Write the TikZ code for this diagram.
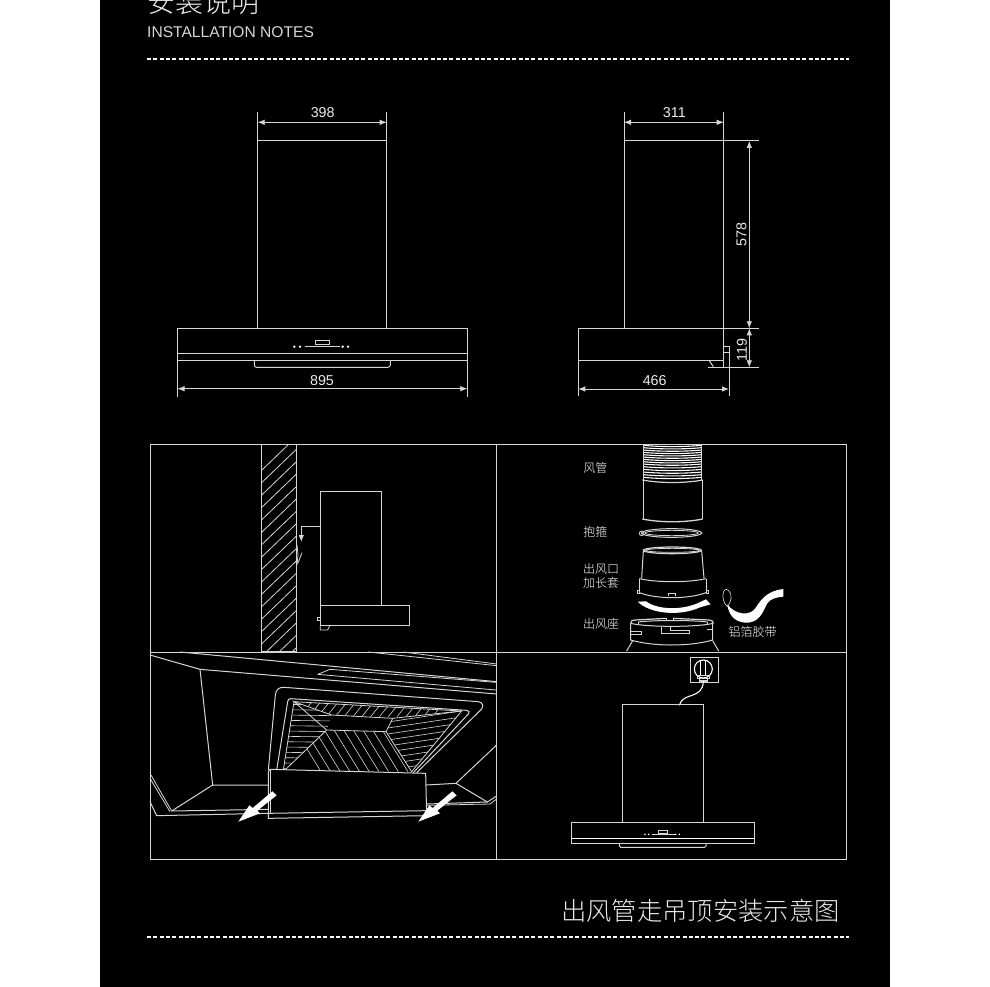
\documentclass[tikz,border=0pt]{standalone}
\usepackage{fontspec}
\setmainfont{Liberation Sans}
\newfontfamily\cjk{Noto Sans CJK SC Light}
\usetikzlibrary{arrows.meta}
\definecolor{linegray}{gray}{0.84}
\definecolor{txtgray}{gray}{0.92}
\tikzset{
  lin/.style={draw=linegray,line width=1pt},
  thinlin/.style={draw=linegray,line width=0.8pt},
  hatchlin/.style={draw=linegray,line width=0.6pt},
  dim/.style={draw=linegray,line width=0.8pt,{Latex[length=7pt,width=5.5pt]}-{Latex[length=7pt,width=5.5pt]}},
  dashline/.style={draw=white,line width=1.3pt,dash pattern=on 4pt off 2.3pt},
  num/.style={text=txtgray,inner sep=0pt,font=\fontsize{14.3}{14}\selectfont},
  lab/.style={text=white,inner sep=0pt,font=\cjk\fontsize{12}{14}\selectfont,align=left},
  zoomed/.style={x=0.33333pt,y=-0.33333pt}
}
\begin{document}
\begin{tikzpicture}[x=1pt,y=-1pt]
\useasboundingbox (0,0) rectangle (990,987);
\fill[white] (0,0) rectangle (990,987);
\fill[black] (100,0) rectangle (890,987);

% header
\node[anchor=center,text=txtgray,inner sep=0pt,font=\cjk\fontsize{28}{28}\selectfont] (title) at (203.5,1.5) {安装说明};
\node[anchor=west,text=linegray,inner sep=0pt,font=\fontsize{15.6}{16}\selectfont] (sub) at (147,32.5) {INSTALLATION NOTES};
\coordinate (d1a) at (147,59); \coordinate (d1b) at (849,59);
\draw[dashline] (d1a) -- (d1b);

% front view
\draw[lin] (257.7,112) -- (257.7,328.3);
\draw[lin] (386.7,112) -- (386.7,328.3);
\draw[lin] (257.7,141) -- (386.7,141);
\draw[dim] (257.7,122.3) -- (386.7,122.3);
\node[num] (n398) at (322.7,112.3) {398};
\draw[lin] (177.5,396.7) -- (177.5,328.3) -- (467.3,328.3) -- (467.3,396.7);
\draw[lin,line width=1.2pt] (177.5,353.3) -- (467.3,353.3);
\draw[lin] (177.5,360) -- (467.3,360);
\draw[lin] (254.3,360) -- (254.3,365) arc (180:90:2.3) -- (388,367.3) arc (90:0:2.3) -- (390.3,360);
\draw[lin] (315.3,344.7) rectangle (329.3,340.7);
\draw[lin] (304.7,346.7) -- (340,346.7);
\foreach \x in {294.3,300,342.7,348} \fill[white] (\x,346.7) circle (1.3);
\draw[dim] (177.5,388.7) -- (467.3,388.7);
\node[num] (n895) at (322,380.3) {895};

% side view
\draw[lin] (624,112) -- (624,328.3);
\draw[lin] (723.7,112) -- (723.7,366.7);
\draw[lin] (624,141) -- (758.7,141);
\draw[dim] (624,122.3) -- (723.7,122.3);
\node[num] (n311) at (674.3,112.3) {311};
\draw[lin] (578.3,396) -- (578.3,328.3) -- (758.7,328.3);
\draw[lin] (578.3,360.3) -- (723.7,360.3);
\draw[lin] (723.7,346.3) -- (729,346.3) -- (729,396);
\draw[lin] (723.7,352) -- (729,352);
\draw[lin] (708.3,367.3) -- (758.7,367.3);
\draw[lin] (709,360.3) -- (713.3,366.7);
\draw[dim] (749.3,141) -- (749.3,328.3);
\draw[dim] (749.3,328.3) -- (749.3,367.3);
\node[num,rotate=90] (n578) at (741.5,234.3) {578};
\node[num,rotate=90] (n119) at (742,350) {119};
\draw[dim] (578.3,389) -- (729,389);
\node[num] (n466) at (654.7,380.3) {466};

% --- panel 1: wall section
\begin{scope}
\clip (261.3,444.3) rectangle (296.7,651.7);
\foreach \i in {-1,...,20}
  \draw[thinlin] (296.7,{449+12.4*\i}) -- (261.3,{449+12.4*\i+34});
\end{scope}
\draw[lin] (261.3,444.3) rectangle (296.7,651.7);
\draw[lin] (320.3,605.7) -- (320.3,491.7) -- (381.3,491.7) -- (381.3,605.7);
\draw[lin] (320.3,605.7) rectangle (409.3,625.7);
\draw[thinlin] (320.3,617) -- (317,617) -- (317,620.7) -- (320.3,620.7);
\draw[thinlin] (320.3,625.7) -- (320.3,630) -- (327.7,630) -- (329.7,625.7);
\draw[lin,-{Latex[length=7pt,width=5.5pt]}] (320.3,526) -- (301.3,526) -- (301.3,542);
\draw[thinlin] (297,545) -- (298,555) -- (297,565);
\draw[thinlin] (298,563) -- (302,552.7);

% --- panel 2: exploded duct
\begin{scope}[shift={(560,440)},zoomed]
  % ribs
  \foreach \y in {16,23,30,37,44,51,58,65,72,80,88,96,104,112}
    \draw[draw=white,line width=1.1pt] (250,\y) .. controls (300,{\y+5}) and (375,{\y+5}) .. (425,\y);
  \draw[lin] (250,14) -- (250,120);
  \draw[lin] (425,14) -- (425,120);
  \draw[lin,line width=1.2pt] (247,120) .. controls (300,130) and (375,130) .. (428,120);
  \draw[lin] (249,120) -- (249,237);
  \draw[lin] (426,120) -- (426,237);
  \draw[lin,line width=1.3pt] (247,237) .. controls (300,248) and (375,248) .. (428,237);
  % clamp
  \draw[lin] (335,279) ellipse [x radius=90,y radius=13];
  \draw[thinlin] (335,279) ellipse [x radius=80,y radius=8];
  \draw[thinlin] (245,280) circle (7);
  \fill[linegray] (245,280) circle (3);
  % extension
  \draw[lin,line width=1.2pt] (337,331) ellipse [x radius=87,y radius=10];
  \draw[thinlin] (337,331) ellipse [x radius=80,y radius=6];
  \draw[lin] (250,333) -- (245,415);
  \draw[lin] (425,333) -- (432,415);
\end{scope}
\begin{scope}[shift={(620,570)},zoomed]
  \draw[lin] (58,26) .. controls (110,38) and (205,38) .. (258,26);
  \draw[lin] (58,26) -- (58,68);
  \draw[lin] (258,26) -- (258,68);
  \draw[lin] (58,68) .. controls (110,88) and (205,88) .. (258,68);
  \draw[thinlin] (51,62) rectangle (58,71);
  \draw[thinlin] (258,62) rectangle (266,71);
  \draw[thinlin] (145,77) -- (145,70) -- (165,70) -- (165,77);
  % rotate arrow
  \fill[white] (53,95) .. controls (90,132) and (180,140) .. (240,112) -- (272,103) -- (258,88) -- (232,100) .. controls (180,122) and (110,118) .. (78,94) -- cycle;
  % base
  \draw[lin,line width=1.2pt] (32,160) .. controls (32,152) and (38,150) .. (45,150) -- (138,145);
  \draw[lin,line width=1.2pt] (160,145) -- (268,150) .. controls (276,151) and (280,154) .. (280,160);
  \draw[lin] (32,160) .. controls (80,172) and (230,172) .. (280,160);
  \draw[lin] (55,156) .. controls (100,150) and (220,150) .. (262,156);
  \draw[lin] (55,156) -- (55,165);
  \draw[lin] (262,156) -- (262,165);
  \draw[lin] (138,145) -- (138,152);
  \draw[lin] (160,145) -- (160,152);
  \draw[lin] (32,160) -- (32,210) .. controls (100,230) and (210,230) .. (278,210) -- (278,160);
  \draw[thinlin] (32,185) -- (65,185) -- (65,192) -- (32,192);
  \draw[thinlin] (125,172) -- (125,190) -- (208,190) -- (208,182) -- (150,182) -- (150,172);
  \draw[thinlin] (262,178) -- (278,178);
  \draw[lin] (38,212) -- (20,243);
  \draw[lin] (278,212) -- (296,243);
  % tape
  \fill[white] (490,57) .. controls (445,62) and (425,85) .. (408,112) .. controls (392,140) and (345,135) .. (322,103) .. controls (325,130) and (340,155) .. (375,158) .. controls (420,160) and (428,125) .. (442,100) .. controls (452,85) and (470,82) .. (490,80) -- cycle;
  \draw[draw=linegray,line width=0.6pt] (322,110) .. controls (300,90) and (308,45) .. (326,62) .. controls (340,78) and (332,98) .. (322,110);
\end{scope}
\node[lab] (l1) at (595.3,468.3) {风管};
\node[lab] (l2) at (595.3,531.7) {抱箍};
\node[lab] (l3) at (601,569) {出风口};
\node[lab] (l4) at (601,583.3) {加长套};
\node[lab] (l5) at (601,623.7) {出风座};
\node[lab] (l6) at (752.7,631.7) {铝箔胶带};

% --- panel 3: recess
\begin{scope}[shift={(150,650)},zoomed]
  \draw[lin] (0,15) -- (150,58) -- (1040,132);
  \draw[lin] (90,6) -- (1040,95);
  \draw[thinlin] (655,6) -- (1040,47);
  \draw[thinlin] (760,6) -- (1040,42);
  \draw[thinlin] (503,73) -- (540,58) -- (1038,97);
  \draw[thinlin] (503,73) -- (1038,120);
  \draw[lin] (150,58) -- (188,405) -- (355,405);
  \draw[lin] (188,405) -- (65,483);
  \draw[thinlin] (0,370) -- (65,483);
  \draw[thinlin] (0,385) -- (60,485);
  \draw[lin] (0,455) -- (20,497) -- (355,490);
  \draw[lin] (65,483) -- (355,478);
  \draw[lin] (1040,285) -- (918,400) -- (828,405);
  \draw[lin] (918,400) -- (1012,456) -- (1040,438);
  \draw[thinlin] (1020,462) -- (1040,447);
  \draw[lin] (1012,456) -- (830,462);
  \draw[thinlin] (1020,462) -- (830,466);
  % recess outline
  \draw[lin] (355,360) -- (376,135) .. controls (378,118) and (388,111) .. (402,112) -- (985,155) .. controls (998,157) and (1002,168) .. (994,178) -- (800,368);
  \draw[lin] (380,360) -- (413,155) .. controls (414,149) and (416,146) .. (422,146) -- (950,181) .. controls (958,182) and (960,187) .. (955,192) -- (790,368);
  % hatching
  \begin{scope}
    \clip (432,155) -- (545,195) -- (530,240) -- (400,362) -- cycle;
    \foreach \i in {0,...,12} \draw[hatchlin] (400,{163+16*\i}) -- (560,{165+16*\i});
  \end{scope}
  \begin{scope}
    \clip (432,155) -- (935,183) -- (728,205) -- (545,195) -- cycle;
    \foreach \i in {0,...,15} \draw[hatchlin] ({490+26.5*\i},150) -- ({450+26.5*\i},200);
  \end{scope}
  \begin{scope}
    \clip (530,240) -- (708,245) -- (785,365) -- (400,362) -- cycle;
    \foreach \i in {-3,...,11} \draw[hatchlin] ({520+29*\i},235) -- ({600+29*\i},365);
  \end{scope}
  \begin{scope}
    \clip (935,183) -- (728,205) -- (708,245) -- (785,365) -- cycle;
    \foreach \i in {0,...,10} \draw[hatchlin] (700,{218+18*\i}) -- (940,{182+18*\i});
  \end{scope}
  \draw[thinlin] (432,155) -- (935,183) -- (785,365);
  \draw[thinlin] (432,155) -- (400,360);
  \draw[thinlin] (432,155) -- (545,195) -- (728,205) -- (708,245) -- (530,240) -- cycle;
  \draw[thinlin] (530,240) -- (405,360);
  \draw[thinlin] (708,245) -- (785,365);
  \draw[thinlin] (935,183) -- (728,205);
  % front plate
  \fill[black] (355,365) -- (360,358) -- (827,370) -- (830,497) -- (355,505) -- cycle;
  \draw[lin] (355,365) -- (360,358) -- (827,370) -- (830,497) -- (355,505) -- cycle;
  \draw[thinlin] (360,358) -- (360,490);
  \draw[lin] (355,490) -- (830,482);
  % white arrows
  \foreach \s in {0,540}
    \fill[white,shift={(\s,0)}] (367,424) -- (380,436) -- (322,482) -- (330,490) -- (265,515) -- (298,466) -- (308,474) -- cycle;
\end{scope}

% --- panel 4: hood and socket
\begin{scope}[shift={(560,650)},zoomed]
  \draw[lin] (391,22) rectangle (476,98);
  \draw[draw=white,line width=1.1pt] (430,57) circle (27);
  \draw[draw=white,line width=1.1pt] (422,33) -- (422,74);
  \draw[draw=white,line width=1.1pt] (437,33) -- (437,74);
  \draw[lin] (413,76) rectangle (447,85);
  \draw[lin] (419,85) rectangle (441,94);
  \draw[lin] (419,90) -- (441,90);
  \draw[draw=white,line width=1.1pt] (430,94) .. controls (428,150) and (368,125) .. (358,166);
  \draw[lin] (187,518) -- (187,163) -- (431,163) -- (431,518);
  \draw[lin] (34,518) rectangle (584,579);
  \draw[draw=white,line width=1.3pt] (34,566) -- (584,566);
  \draw[lin] (178,579) -- (178,588) arc (180:90:4) -- (434,592) arc (90:0:4) -- (438,579);
  \draw[thinlin] (295,551) rectangle (322,541);
  \draw[thinlin] (275,553) -- (345,553);
  \foreach \x in {255,266,347,358} \fill[white] (\x,553) circle (2.7);
\end{scope}

% panel frame
\draw[lin] (150.5,444.5) rectangle (846.5,859.5);
\draw[lin] (496.5,444.5) -- (496.5,859.5);
\draw[lin] (150.5,652) -- (846.5,652);

% footer
\node[anchor=center,text=txtgray,inner sep=0pt,font=\cjk\fontsize{25.3}{26}\selectfont] (foot) at (700.5,911) {出风管走吊顶安装示意图};
\coordinate (d2a) at (147,937); \coordinate (d2b) at (849,937);
\draw[dashline] (d2a) -- (d2b);
\end{tikzpicture}
\end{document}
